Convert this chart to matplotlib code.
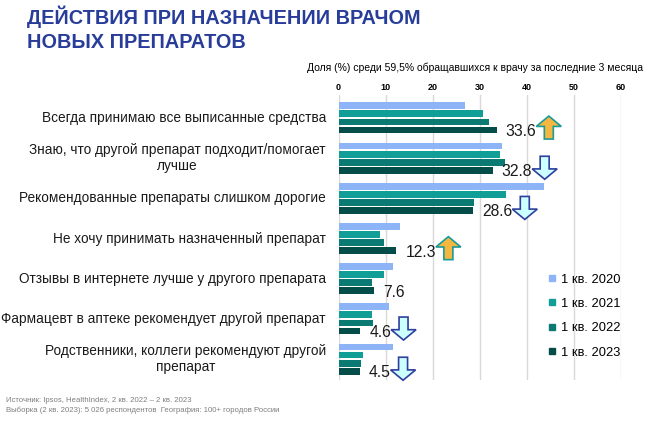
import matplotlib
matplotlib.use("Agg")
import matplotlib.pyplot as plt
from matplotlib.lines import Line2D
from matplotlib.patches import Polygon
import numpy as np

plt.rcParams['font.family'] = ['Liberation Sans', 'DejaVu Sans']

# данные (доля, %)
categories = [
    "Всегда принимаю все выписанные средства",
    "Знаю, что другой препарат подходит/помогает\nлучше",
    "Рекомендованные препараты слишком дорогие",
    "Не хочу принимать назначенный препарат",
    "Отзывы в интернете лучше у другого препарата",
    "Фармацевт в аптеке рекомендует другой препарат",
    "Родственники, коллеги рекомендуют другой\nпрепарат",
]
q2020 = [26.8, 34.7, 43.6, 13.1, 11.6, 10.7, 11.6]
q2021 = [30.8, 34.3, 35.6, 8.9, 9.6, 7.2, 5.2]
q2022 = [31.9, 35.3, 28.8, 9.6, 7.1, 7.3, 4.8]
q2023 = [33.6, 32.8, 28.6, 12.3, 7.6, 4.6, 4.5]
trend = ['up', 'down', 'down', 'up', None, 'down', 'down']
series_labels = ["1 кв. 2020", "1 кв. 2021", "1 кв. 2022", "1 кв. 2023"]
colors = ['#8DB4F7', '#109E97', '#0B7A72', '#054D49']

W, H = 650, 421
fig = plt.figure(figsize=(W / 100, H / 100), dpi=100)
ax = fig.add_axes([338.5 / W, 1 - 380 / H, (620.7 - 338.5) / W, (380 - 95) / H])

y = np.arange(len(categories))
offsets = [-0.3, -0.1, 0.1, 0.3]
for vals, off, col, lab in zip([q2020, q2021, q2022, q2023], offsets, colors, series_labels):
    ax.barh(y + off, vals, height=0.17, color=col, label=lab, zorder=3)

ax.set_xlim(0, 60)
ax.set_ylim(6.52, -0.57)
ax.set_xticks(range(0, 61, 10))
ax.xaxis.tick_top()
ax.tick_params(axis='x', length=0, pad=2.5, labelsize=6.5)
for t in ax.get_xticklabels():
    t.set_fontweight('bold')
ax.set_yticks([])
ax.xaxis.set_label_position('top')
ax.set_xlabel("Доля (%) среди 59,5% обращавшихся к врачу за последние 3 месяца",
              fontsize=7.5, va='center')
ax.xaxis.set_label_coords(0.482, 1.094)
ax.grid(axis='x', color='#D9D9D9', linewidth=1, zorder=0)
for s in ax.spines.values():
    s.set_visible(False)

# подписи категорий
for yi, cat in zip(y, categories):
    ax.text(-12.5 / 4.7, yi, cat, ha='right', va='center', multialignment='center',
            fontsize=9.8, color='#1A1A1A', linespacing=1.15)

# подписи значений 2023
value_texts = []
for yi, v in zip(y, q2023):
    t = ax.annotate(f"{v:.1f}", xy=(v, yi + 0.34), xytext=(6.5, 0),
                    textcoords='offset points', ha='left', va='center',
                    fontsize=11.3, color='#1A1A1A')
    value_texts.append(t)

# легенда
handles = [Line2D([], [], marker='s', linestyle='none', markersize=4.3,
                  markerfacecolor=c, markeredgecolor=c) for c in colors]
fig.legend(handles, series_labels, loc='upper left',
           bbox_to_anchor=(536 / W, 1 - 262 / H), frameon=False, fontsize=9.3,
           handlelength=0.6, handletextpad=0.4, labelspacing=0.95)

# стрелки
fig.canvas.draw()
renderer = fig.canvas.get_renderer()
aw, ah = 25, 23
for yi, t, tr in zip(y, value_texts, trend):
    if tr is None:
        continue
    bb = t.get_window_extent(renderer)
    x0 = bb.x1
    yc = ax.transData.transform((0, yi + 0.24))[1]
    y0 = yc - ah / 2
    if tr == 'up':
        pts = [(0.5, 1), (1, 0.55), (0.68, 0.55), (0.68, 0), (0.32, 0), (0.32, 0.55), (0, 0.55)]
        fc, ec = '#F4B841', '#1C9A9A'
    else:
        pts = [(0.5, 0), (1, 0.45), (0.68, 0.45), (0.68, 1), (0.32, 1), (0.32, 0.45), (0, 0.45)]
        fc, ec = '#CCFFFF', '#2E3F9E'
    disp = [(x0 + px * aw, y0 + py * ah) for px, py in pts]
    figpts = fig.transFigure.inverted().transform(disp)
    fig.patches.append(Polygon(figpts, closed=True, transform=fig.transFigure,
                               facecolor=fc, edgecolor=ec, linewidth=1.2, zorder=5))

# заголовок
fig.text(27 / W, 1 - 6 / H, "ДЕЙСТВИЯ ПРИ НАЗНАЧЕНИИ ВРАЧОМ\nНОВЫХ ПРЕПАРАТОВ",
         ha='left', va='top', fontsize=14.3, fontweight='bold', color='#283C9A',
         linespacing=1.3)

# источник
fig.text(6 / W, 1 - 401 / H, "Источник: Ipsos, HealthIndex, 2 кв. 2022 – 2 кв. 2023",
         ha='left', va='center', fontsize=5.6, color='#7F7F7F')
fig.text(6 / W, 1 - 410 / H,
         "Выборка (2 кв. 2023): 5 026 респондентов  География: 100+ городов России",
         ha='left', va='center', fontsize=5.6, color='#7F7F7F')

fig.savefig("out.png", dpi=100)
